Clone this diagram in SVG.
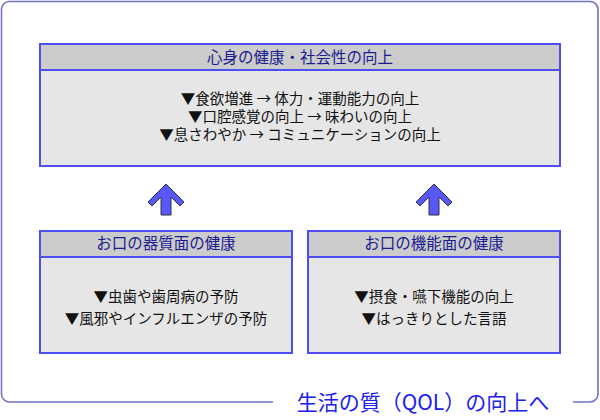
<svg xmlns="http://www.w3.org/2000/svg" width="600" height="420" viewBox="0 0 600 420">
<style>
.frame{fill:none;stroke:#7474c4;stroke-width:1.6}
.hdr{fill:#cccccc;stroke:#4e4ef2;stroke-width:2}
.body{fill:#e6e6e6;stroke:#4e4ef2;stroke-width:2}
.ht{font-family:"Noto Sans CJK JP","Noto Sans",sans-serif;font-size:15.5px;fill:#1c1c90;text-anchor:middle}
.bt{font-family:"Noto Sans CJK JP","Noto Sans",sans-serif;font-size:14.5px;fill:#111;text-anchor:middle}
.arr{fill:#5858f8;stroke:#333344;stroke-width:1}
.qol{font-family:"Noto Sans CJK JP","Noto Sans",sans-serif;font-size:21px;fill:#2020ee;text-anchor:middle}
</style>
<rect width="600" height="420" fill="#ffffff"/>
<g id="frame">
<path class="frame" d="M273,402 H9 A8,8 0 0 1 1.5,394 V9 A8,8 0 0 1 9,1.5 H590 A8,8 0 0 1 598,9 V394 A8,8 0 0 1 590,402 H573"/>
<text class="qol" x="423" y="410">生活の質（QOL）の向上へ</text>
</g>
<g id="top">
<rect class="body" x="40" y="44" width="520" height="122"/>
<rect class="hdr" x="40" y="44" width="520" height="26"/>
<text class="ht" x="300" y="63">心身の健康・社会性の向上</text>
<text class="bt" x="300" y="104">▼食欲増進 → 体力・運動能力の向上</text>
<text class="bt" x="300" y="122">▼口腔感覚の向上 → 味わいの向上</text>
<text class="bt" x="300" y="140">▼息さわやか → コミュニケーションの向上</text>
</g>
<g id="left">
<rect class="body" x="40" y="231" width="252" height="122"/>
<rect class="hdr" x="40" y="231" width="252" height="26"/>
<text class="ht" x="166" y="249">お口の器質面の健康</text>
<text class="bt" x="166" y="302">▼虫歯や歯周病の予防</text>
<text class="bt" x="166" y="324">▼風邪やインフルエンザの予防</text>
</g>
<g id="right">
<rect class="body" x="308" y="231" width="252" height="122"/>
<rect class="hdr" x="308" y="231" width="252" height="26"/>
<text class="ht" x="434" y="249">お口の機能面の健康</text>
<text class="bt" x="434" y="302">▼摂食・嚥下機能の向上</text>
<text class="bt" x="434" y="324">▼はっきりとした言語</text>
</g>
<g id="connectors">
<polygon class="arr" points="166,184 184,202 180,206 171,197 171,215 161,215 161,197 152,206 148,202"/>
<polygon class="arr" points="434,184 452,202 448,206 439,197 439,215 429,215 429,197 420,206 416,202"/>
</g>
</svg>
